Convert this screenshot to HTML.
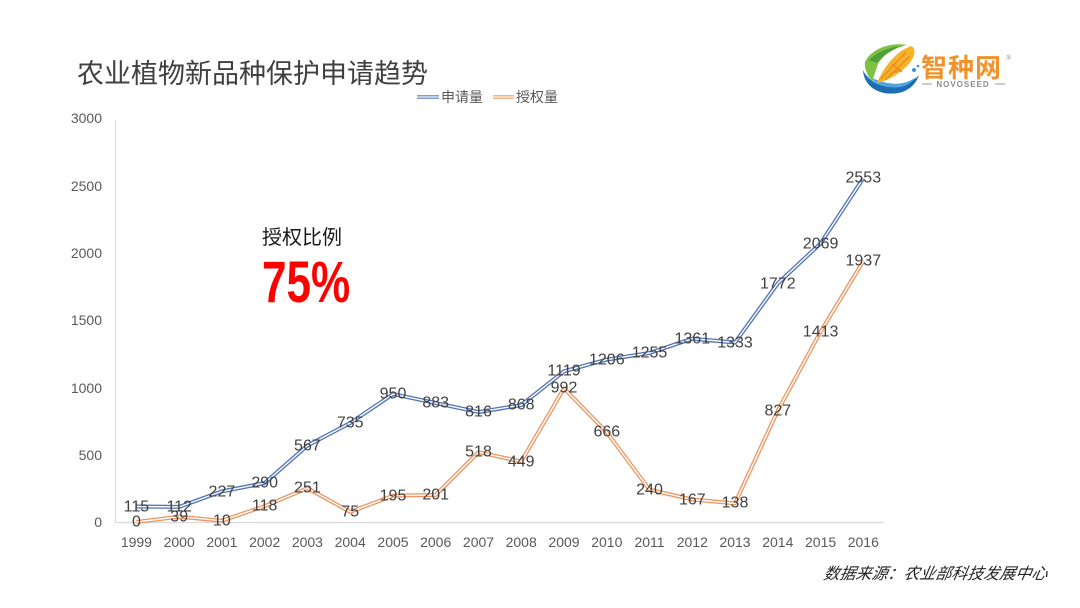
<!DOCTYPE html>
<html>
<head>
<meta charset="utf-8">
<style>
  html,body{margin:0;padding:0;background:#fff;}
  body{width:1080px;height:608px;overflow:hidden;}
  svg{display:block;}
  .t{font-family:"Liberation Sans","Noto Sans CJK SC",sans-serif;}
</style>
</head>
<body>
<svg width="1080" height="608" viewBox="0 0 1080 608" xmlns="http://www.w3.org/2000/svg">
  <rect width="1080" height="608" fill="#ffffff"/>

  <!-- Title -->
  <text class="t" x="77" y="83" font-size="27" fill="#404040" style="font-family:'Noto Sans CJK SC','WenQuanYi Zen Hei',sans-serif;">农业植物新品种保护申请趋势</text>

  <!-- Legend -->
  <line x1="417" y1="97" x2="439" y2="97" stroke="#5a7bbd" stroke-width="3.5"/>
  <line x1="417" y1="97" x2="439" y2="97" stroke="#fff" stroke-width="1.2"/>
  <text class="t" x="441" y="102" font-size="14" fill="#595959" style="font-family:'Noto Sans CJK SC',sans-serif;">申请量</text>
  <line x1="493" y1="97" x2="514" y2="97" stroke="#ed9a62" stroke-width="3.5"/>
  <line x1="493" y1="97" x2="514" y2="97" stroke="#fff" stroke-width="1.2"/>
  <text class="t" x="516" y="102" font-size="14" fill="#595959" style="font-family:'Noto Sans CJK SC',sans-serif;">授权量</text>

  <!-- Axes -->
  <line x1="115.5" y1="120" x2="115.5" y2="522" stroke="#d9d9d9" stroke-width="1"/>
  <line x1="115" y1="522.5" x2="884" y2="522.5" stroke="#d9d9d9" stroke-width="1.2"/>

  <!-- Y tick labels -->
  <g class="t" font-size="14" fill="#595959" text-anchor="end" dominant-baseline="central">
    <text x="102" y="118">3000</text>
    <text x="102" y="186">2500</text>
    <text x="102" y="253">2000</text>
    <text x="102" y="320">1500</text>
    <text x="102" y="388">1000</text>
    <text x="102" y="455">500</text>
    <text x="102" y="522">0</text>
  </g>

  <!-- X tick labels -->
  <g class="t" font-size="14" fill="#595959" text-anchor="middle" dominant-baseline="central">
    <text x="136.4" y="542">1999</text>
    <text x="179.2" y="542">2000</text>
    <text x="221.9" y="542">2001</text>
    <text x="264.7" y="542">2002</text>
    <text x="307.4" y="542">2003</text>
    <text x="350.2" y="542">2004</text>
    <text x="393.0" y="542">2005</text>
    <text x="435.7" y="542">2006</text>
    <text x="478.5" y="542">2007</text>
    <text x="521.2" y="542">2008</text>
    <text x="564.0" y="542">2009</text>
    <text x="606.8" y="542">2010</text>
    <text x="649.5" y="542">2011</text>
    <text x="692.3" y="542">2012</text>
    <text x="735.0" y="542">2013</text>
    <text x="777.8" y="542">2014</text>
    <text x="820.6" y="542">2015</text>
    <text x="863.3" y="542">2016</text>
  </g>

  <!-- Series: 申请量 (blue) -->
  <polyline fill="none" stroke="#4f72b8" stroke-width="4" stroke-linejoin="round"
    points="136.4,506.5 179.2,506.9 221.9,491.4 264.7,483.0 307.4,445.6 350.2,423.0 393.0,394.1 435.7,403.1 478.5,412.1 521.2,405.1 564.0,371.3 606.8,359.6 649.5,353.0 692.3,338.7 735.0,342.5 777.8,283.4 820.6,243.4 863.3,178.2"/>
  <polyline fill="none" stroke="#ffffff" stroke-width="1.4" stroke-linejoin="round"
    points="136.4,506.5 179.2,506.9 221.9,491.4 264.7,483.0 307.4,445.6 350.2,423.0 393.0,394.1 435.7,403.1 478.5,412.1 521.2,405.1 564.0,371.3 606.8,359.6 649.5,353.0 692.3,338.7 735.0,342.5 777.8,283.4 820.6,243.4 863.3,178.2"/>

  <!-- Series: 授权量 (orange) -->
  <polyline fill="none" stroke="#ec9560" stroke-width="4" stroke-linejoin="round"
    points="136.4,522 179.2,516.7 221.9,520.7 264.7,506.1 307.4,488.2 350.2,511.9 393.0,495.7 435.7,494.9 478.5,452.2 521.2,461.5 564.0,388.4 606.8,432.3 649.5,489.7 692.3,499.5 735.0,503.4 777.8,410.6 820.6,331.7 863.3,261.2"/>
  <polyline fill="none" stroke="#ffffff" stroke-width="1.4" stroke-linejoin="round"
    points="136.4,522 179.2,516.7 221.9,520.7 264.7,506.1 307.4,488.2 350.2,511.9 393.0,495.7 435.7,494.9 478.5,452.2 521.2,461.5 564.0,388.4 606.8,432.3 649.5,489.7 692.3,499.5 735.0,503.4 777.8,410.6 820.6,331.7 863.3,261.2"/>

  <!-- Data labels -->
  <g class="t" font-size="16" fill="#404040" text-anchor="middle" dominant-baseline="central">
    <text x="136.4" y="507">115</text>
    <text x="179.2" y="507">112</text>
    <text x="221.9" y="492">227</text>
    <text x="264.7" y="483">290</text>
    <text x="307.4" y="446">567</text>
    <text x="350.2" y="423">735</text>
    <text x="393.0" y="394">950</text>
    <text x="435.7" y="403">883</text>
    <text x="478.5" y="412">816</text>
    <text x="521.2" y="405">868</text>
    <text x="564.0" y="371">1119</text>
    <text x="606.8" y="360">1206</text>
    <text x="649.5" y="353">1255</text>
    <text x="692.3" y="339">1361</text>
    <text x="735.0" y="343">1333</text>
    <text x="777.8" y="284">1772</text>
    <text x="820.6" y="244">2069</text>
    <text x="863.3" y="178">2553</text>

    <text x="136.4" y="522">0</text>
    <text x="179.2" y="517">39</text>
    <text x="221.9" y="521">10</text>
    <text x="264.7" y="506">118</text>
    <text x="307.4" y="488">251</text>
    <text x="350.2" y="512">75</text>
    <text x="393.0" y="496">195</text>
    <text x="435.7" y="495">201</text>
    <text x="478.5" y="452">518</text>
    <text x="521.2" y="462">449</text>
    <text x="564.0" y="388">992</text>
    <text x="606.8" y="432">666</text>
    <text x="649.5" y="490">240</text>
    <text x="692.3" y="500">167</text>
    <text x="735.0" y="503">138</text>
    <text x="777.8" y="411">827</text>
    <text x="820.6" y="332">1413</text>
    <text x="863.3" y="261">1937</text>
  </g>

  <!-- 授权比例 -->
  <text x="262" y="244" font-size="20" fill="#1a1a1a" style="font-family:'Noto Sans CJK SC',sans-serif;">授权比例</text>
  <text transform="translate(262,302) scale(0.76,1)" font-size="58" font-weight="bold" fill="#ff0000" style="font-family:'Liberation Sans',sans-serif;">75%</text>

  <!-- Source -->
  <text x="823" y="579" font-size="16" font-style="italic" fill="#262626" style="font-family:'Noto Sans CJK SC',sans-serif;" transform="skewX(-10) translate(102,0)">数据来源：农业部科技发展中心</text>

  <!-- Logo -->
  <g>
    <!-- blue wave -->
    <path d="M863,70 C864,88 881,96 898,93 C909,91 916,84 919,75 C911,84 896,89 884,86 C873,83 866,77 863,70 Z" fill="#1b6db5"/>
    <path d="M867,75 C874,84 888,89 900,87 C908,86 913,81 916,77 C908,83 898,85 888,83 C878,81 871,78 867,75 Z" fill="#4fa6de"/>
    <circle cx="914" cy="70" r="2" fill="#3a94d6"/>
    <circle cx="918" cy="66" r="1.3" fill="#3a94d6"/>
    <!-- corn cob -->
    <path d="M877,83 C883,68 896,51 911,46 C917,48 915,58 907,66 C899,74 888,81 877,83 Z" fill="#f5b32a"/>
    <path d="M881,79 L906,52 M885,80 L910,56 M890,74 L900,70 M892,64 L902,72" stroke="#e7861e" stroke-width="1.2" fill="none"/>
    <!-- green leaf -->
    <path d="M865,62 C871,49 890,42 907,45 C894,48 884,54 878,64 C876,70 874,76 872,81 C867,75 864,68 865,62 Z" fill="#7dc242"/>
    <path d="M869,60 C877,52 890,47 901,46 C890,51 882,56 877,63 Z" fill="#4fa03a"/>
    <!-- text -->
    <text x="921" y="77" font-size="26" font-weight="bold" fill="#f1922c" letter-spacing="1" style="font-family:'Noto Sans CJK SC',sans-serif;">智种网</text>
    <text x="1006" y="60" font-size="7" fill="#888">®</text>
    <line x1="922" y1="84" x2="932" y2="84" stroke="#9a9a9a" stroke-width="1"/>
    <text x="963" y="87" font-size="8" font-weight="bold" fill="#8c8c8c" text-anchor="middle" letter-spacing="1" style="font-family:'Liberation Sans',sans-serif;">NOVOSEED</text>
    <line x1="995" y1="84" x2="1005" y2="84" stroke="#9a9a9a" stroke-width="1"/>
  </g>
</svg>
</body>
</html>
